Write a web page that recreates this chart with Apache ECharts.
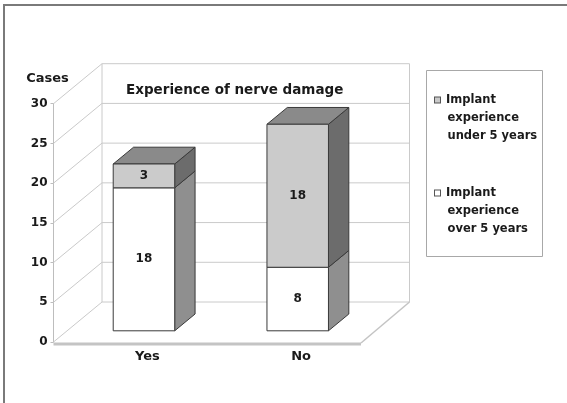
<!DOCTYPE html>
<html>
<head>
<meta charset="utf-8">
<script src="https://cdn.jsdelivr.net/npm/echarts@6/dist/echarts.min.js"></script>
<style>
html,body{margin:0;padding:0;background:#fff;}
#chart{width:567px;height:403px;}
</style>
</head>
<body>
<div id="chart"></div>
<script>
// ---- data ----
const categories = ['Yes', 'No'];
const overValues = [18, 8];    // Implant experience over 5 years (bottom)
const underValues = [3, 18];   // Implant experience under 5 years (top)
const yTicks = [0, 5, 10, 15, 20, 25, 30];
const nameOver = 'Implant experience over 5 years';
const nameUnder = 'Implant experience under 5 years';
const chartTitle = 'Experience of nerve damage';
const yName = 'Cases';

// ---- 3D look constants (layout only) ----
const DX = 48.5, DY = -40;       // depth vector of the floor
const F1 = 0.28, F2 = 0.70;      // front / back of bars in depth
const BAR_FRAC = 0.4;            // bar width relative to band
const FONT = '"DejaVu Sans", sans-serif';
const EDGE = '#3a3a3a';
const GRID_C = '#cacaca';

const overData = categories.map((c, i) => [i, 0, overValues[i]]);
const underData = categories.map((c, i) => [i, overValues[i], overValues[i] + underValues[i]]);
const wallData = yTicks.map(v => [0, v]);

function barRender(colors, isTop) {
  return function (params, api) {
    const cat = api.value(0), lo = api.value(1), hi = api.value(2);
    const bw = api.size([1, 0])[0];
    const p0 = api.coord([cat, lo]);
    const p1 = api.coord([cat, hi]);
    const hw = bw * BAR_FRAC / 2;
    const xl = p0[0] - hw + F1 * DX, xr = p0[0] + hw + F1 * DX;
    const yb = p0[1] + F1 * DY, yt = p1[1] + F1 * DY;
    const ddx = (F2 - F1) * DX, ddy = (F2 - F1) * DY;
    const children = [];
    children.push({
      type: 'polygon',
      shape: { points: [[xr, yt], [xr + ddx, yt + ddy], [xr + ddx, yb + ddy], [xr, yb]] },
      style: { fill: colors.side, stroke: EDGE, lineWidth: 1 }
    });
    if (isTop) {
      children.push({
        type: 'polygon',
        shape: { points: [[xl, yt], [xl + ddx, yt + ddy], [xr + ddx, yt + ddy], [xr, yt]] },
        style: { fill: colors.top, stroke: EDGE, lineWidth: 1 }
      });
    }
    children.push({
      type: 'rect',
      shape: { x: xl, y: yt, width: xr - xl, height: yb - yt },
      style: { fill: colors.front, stroke: EDGE, lineWidth: 1 }
    });
    children.push({
      type: 'text',
      style: {
        text: String(hi - lo), x: (xl + xr) / 2, y: (yt + yb) / 2,
        align: 'center', verticalAlign: 'middle',
        font: 'bold 12px ' + FONT, fill: '#1a1a1a'
      }
    });
    return { type: 'group', children: children };
  };
}

function wallRender(params, api) {
  const v = api.value(1);
  const bw = api.size([1, 0])[0];
  const pl = api.coord([0, v]);
  const pr = api.coord([categories.length - 1, v]);
  const lx = pl[0] - bw / 2, rx = pr[0] + bw / 2, y = pl[1];
  const children = [];
  const ls = { stroke: GRID_C, lineWidth: 1 };
  children.push({ type: 'line', shape: { x1: lx, y1: y, x2: lx + DX, y2: y + DY }, style: ls });
  children.push({ type: 'line', shape: { x1: lx + DX, y1: y + DY, x2: rx + DX, y2: y + DY }, style: ls });
  if (params.dataIndex === 0) {
    const ytop = api.coord([0, yTicks[yTicks.length - 1]])[1];
    children.push({ type: 'line', shape: { x1: lx + DX, y1: y + DY, x2: lx + DX, y2: ytop + DY }, style: ls });
    children.push({ type: 'line', shape: { x1: rx + DX, y1: y + DY, x2: rx + DX, y2: ytop + DY }, style: ls });
    children.push({ type: 'line', shape: { x1: rx, y1: y + 1, x2: rx + DX, y2: y + DY }, style: { stroke: '#c4c4c4', lineWidth: 1.5 } });
    children.push({ type: 'line', shape: { x1: lx, y1: y + 2, x2: rx, y2: y + 2 }, style: { stroke: '#c4c4c4', lineWidth: 3 } });
  }
  return { type: 'group', children: children };
}

function legendFmt(name) {
  const w = name.split(' ');
  const box = name === nameUnder ? 'bu' : 'bo';
  return '{' + box + '|}{t|' + w[0] + '}\n{i|' + w[1] + '}\n{i|' + w.slice(2).join(' ') + '}';
}

const txt = { fontFamily: FONT, fontWeight: 'bold', fontSize: 11.5, color: '#1a1a1a', lineHeight: 18 };

const chart = echarts.init(document.getElementById('chart'), null, { renderer: 'canvas' });
chart.setOption({
  animation: false,
  backgroundColor: '#fff',
  title: {
    text: chartTitle, left: 126, top: 83, padding: 0,
    textStyle: { fontFamily: FONT, fontWeight: 'bold', fontSize: 13.5, color: '#1a1a1a' }
  },
  grid: { left: 53.5, top: 103.7, width: 307.5, height: 238.3, containLabel: false },
  legend: {
    data: [nameUnder, nameOver],
    orient: 'vertical', left: 430, top: 94, padding: 0,
    itemWidth: 0, itemHeight: 0, itemGap: 45,
    selectedMode: false,
    formatter: legendFmt,
    textStyle: {
      rich: {
        bu: { width: 5, height: 5, borderColor: '#555', borderWidth: 1, backgroundColor: '#c9c9c9' },
        bo: { width: 5, height: 5, borderColor: '#555', borderWidth: 1, backgroundColor: '#ffffff' },
        t: Object.assign({ padding: [0, 0, 0, 6] }, txt),
        i: Object.assign({ padding: [0, 0, 0, 12.5] }, txt)
      }
    }
  },
  xAxis: {
    type: 'category', data: categories,
    axisLine: { show: false }, axisTick: { show: false },
    axisLabel: { margin: 8, padding: [0, 0, 0, 34], fontFamily: FONT, fontWeight: 'bold', fontSize: 13, color: '#1a1a1a' }
  },
  yAxis: {
    type: 'value', min: 0, max: 30, interval: 5,
    name: yName, nameLocation: 'end', nameGap: 19,
    nameTextStyle: { fontFamily: FONT, fontWeight: 'bold', fontSize: 13, color: '#1a1a1a', padding: [0, 12, 0, 0] },
    axisLine: { show: true, lineStyle: { color: '#bdbdbd' } },
    axisTick: { show: true, length: 3, lineStyle: { color: '#bdbdbd' } },
    splitLine: { show: false },
    axisLabel: { margin: 6, fontFamily: FONT, fontWeight: 'bold', fontSize: 12, color: '#1a1a1a' }
  },
  series: [
    { type: 'custom', name: 'walls', data: wallData, encode: { x: 0, y: 1 }, renderItem: wallRender, z: 1, clip: false, silent: true, legendHoverLink: false },
    { type: 'custom', name: nameOver, data: overData, encode: { x: 0, y: [1, 2] }, z: 3, clip: false,
      itemStyle: { color: '#ffffff' },
      renderItem: barRender({ front: '#ffffff', side: '#8f8f8f', top: '#8a8a8a' }, false) },
    { type: 'custom', name: nameUnder, data: underData, encode: { x: 0, y: [1, 2] }, z: 3, clip: false,
      itemStyle: { color: '#c9c9c9' },
      renderItem: barRender({ front: '#cbcbcb', side: '#6c6c6c', top: '#8a8a8a' }, true) }
  ],
  graphic: [
    { type: 'rect', shape: { x: 426.5, y: 70.5, width: 116, height: 186 }, style: { fill: 'none', stroke: '#a8a8a8', lineWidth: 1 }, z: 0 },
    { type: 'line', shape: { x1: 3, y1: 5, x2: 567, y2: 5 }, style: { stroke: '#7a7a7a', lineWidth: 2 } },
    { type: 'line', shape: { x1: 4, y1: 5, x2: 4, y2: 403 }, style: { stroke: '#7a7a7a', lineWidth: 2 } }
  ]
});
</script>
</body>
</html>
